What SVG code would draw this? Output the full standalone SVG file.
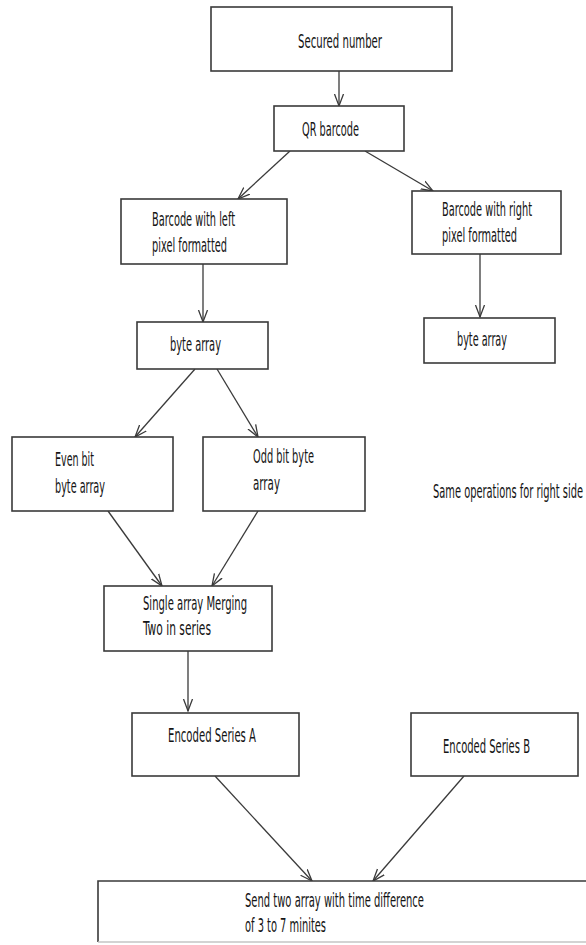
<svg xmlns="http://www.w3.org/2000/svg" width="586" height="945" viewBox="0 0 586 945">
  <defs>
    <style>
      .box { fill: #ffffff; stroke: #3a3a3a; stroke-width: 1.6; }
      .lbl { font-family: "DejaVu Sans Condensed", "DejaVu Sans", sans-serif; font-stretch: condensed; font-size: 19px; fill: #151515; }
      .edge { fill: none; stroke: #3a3a3a; stroke-width: 1.3; marker-end: url(#vhead); }
    </style>
    <marker id="vhead" markerUnits="userSpaceOnUse" markerWidth="14" markerHeight="14" viewBox="-12 -7 14 14" refX="0" refY="0" orient="auto">
      <path d="M -12 -4.5 L 0 0 L -12 4.5" fill="none" stroke="#3a3a3a" stroke-width="1.3"/>
    </marker>
  </defs>
  <rect width="586" height="945" fill="#ffffff"/>

  <g id="connectors">
    <line class="edge" x1="339" y1="71" x2="339" y2="106"/>
    <line class="edge" x1="290" y1="151" x2="238" y2="199"/>
    <line class="edge" x1="365" y1="151" x2="433" y2="191"/>
    <line class="edge" x1="203" y1="264" x2="203" y2="322"/>
    <line class="edge" x1="480" y1="254" x2="480" y2="317"/>
    <line class="edge" x1="195" y1="369" x2="135" y2="437"/>
    <line class="edge" x1="217" y1="369" x2="258" y2="437"/>
    <line class="edge" x1="108" y1="511" x2="162" y2="586"/>
    <line class="edge" x1="258" y1="511" x2="212" y2="586"/>
    <line class="edge" x1="188" y1="651" x2="188" y2="711"/>
    <line class="edge" x1="215" y1="776" x2="312" y2="881"/>
    <line class="edge" x1="464" y1="776" x2="373" y2="881"/>
  </g>

  <g id="secured-number">
    <rect class="box" x="211" y="7" width="241" height="64"/>
    <text class="lbl" x="298" y="48" textLength="84" lengthAdjust="spacingAndGlyphs">Secured number</text>
  </g>

  <g id="qr-barcode">
    <rect class="box" x="274" y="106" width="130" height="45"/>
    <text class="lbl" x="302" y="136" textLength="57" lengthAdjust="spacingAndGlyphs">QR barcode</text>
  </g>

  <g id="left-formatted">
    <rect class="box" x="121" y="199" width="166" height="65"/>
    <text class="lbl" x="152" y="226" textLength="83" lengthAdjust="spacingAndGlyphs">Barcode with left</text>
    <text class="lbl" x="152" y="252" textLength="75" lengthAdjust="spacingAndGlyphs">pixel formatted</text>
  </g>

  <g id="right-formatted">
    <rect class="box" x="412" y="191" width="149" height="63"/>
    <text class="lbl" x="442" y="216" textLength="90" lengthAdjust="spacingAndGlyphs">Barcode with right</text>
    <text class="lbl" x="442" y="242" textLength="75" lengthAdjust="spacingAndGlyphs">pixel formatted</text>
  </g>

  <g id="left-byte-array">
    <rect class="box" x="137" y="322" width="131" height="47"/>
    <text class="lbl" x="170" y="351" textLength="51" lengthAdjust="spacingAndGlyphs">byte array</text>
  </g>

  <g id="right-byte-array">
    <rect class="box" x="424" y="318" width="131" height="45"/>
    <text class="lbl" x="457" y="346" textLength="50" lengthAdjust="spacingAndGlyphs">byte array</text>
  </g>

  <g id="even-bit">
    <rect class="box" x="12" y="437" width="161" height="74"/>
    <text class="lbl" x="55" y="466" textLength="39" lengthAdjust="spacingAndGlyphs">Even bit</text>
    <text class="lbl" x="55" y="493" textLength="50" lengthAdjust="spacingAndGlyphs">byte array</text>
  </g>

  <g id="odd-bit">
    <rect class="box" x="203" y="437" width="162" height="74"/>
    <text class="lbl" x="253" y="463" textLength="61" lengthAdjust="spacingAndGlyphs">Odd bit byte</text>
    <text class="lbl" x="253" y="490" textLength="27" lengthAdjust="spacingAndGlyphs">array</text>
  </g>

  <g id="right-side-note">
    <text class="lbl" x="433" y="498" textLength="150" lengthAdjust="spacingAndGlyphs">Same operations for right side</text>
  </g>

  <g id="merge">
    <rect class="box" x="104" y="586" width="168" height="65"/>
    <text class="lbl" x="143" y="610" textLength="104" lengthAdjust="spacingAndGlyphs">Single array Merging</text>
    <text class="lbl" x="143" y="635" textLength="68" lengthAdjust="spacingAndGlyphs">Two in series</text>
  </g>

  <g id="encoded-a">
    <rect class="box" x="132" y="713" width="167" height="63"/>
    <text class="lbl" x="168" y="742" textLength="88" lengthAdjust="spacingAndGlyphs">Encoded Series A</text>
  </g>

  <g id="encoded-b">
    <rect class="box" x="411" y="713" width="167" height="63"/>
    <text class="lbl" x="443" y="753" textLength="87" lengthAdjust="spacingAndGlyphs">Encoded Series B</text>
  </g>

  <g id="send">
    <rect x="98" y="881" width="500" height="61" fill="#ffffff"/>
    <path d="M 98 942 L 98 881 L 590 881" fill="none" stroke="#3a3a3a" stroke-width="1.6"/>
    <line x1="98" y1="942" x2="590" y2="942" stroke="#c4c4c4" stroke-width="1.4"/>
    <text class="lbl" x="245" y="907" textLength="179" lengthAdjust="spacingAndGlyphs">Send two array with time difference</text>
    <text class="lbl" x="245" y="932" textLength="81" lengthAdjust="spacingAndGlyphs">of 3 to 7 minites</text>
  </g>
</svg>
